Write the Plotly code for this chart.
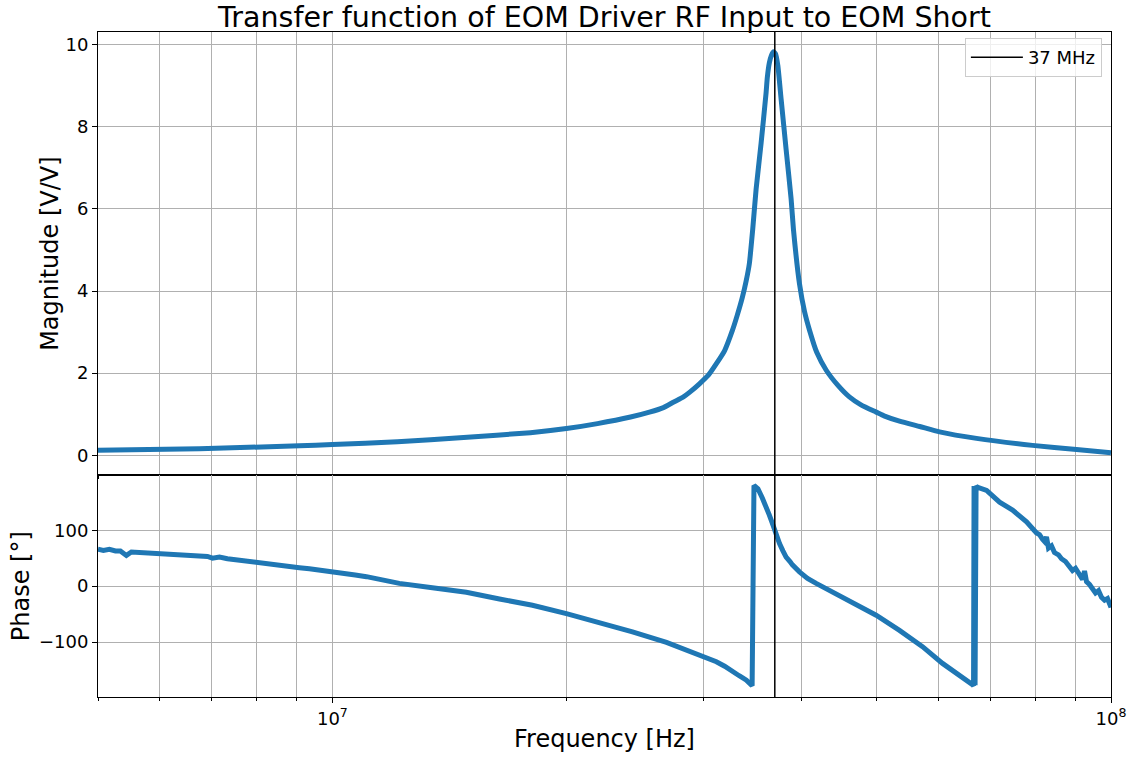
import math
import plotly.graph_objects as go
from plotly.subplots import make_subplots

# ---- data ----
mag_freq = [5.0e6, 6.748e6, 9.07e6, 1.0e7, 1.212e7, 1.474e7, 1.796e7, 1.998e7, 2.190e7,
            2.415e7, 2.554e7, 2.662e7, 2.74e7, 2.824e7, 2.875e7, 2.961e7, 3.04e7, 3.113e7,
            3.19e7, 3.264e7,
            3.31e7, 3.362e7, 3.40e7, 3.432e7, 3.466e7, 3.501e7, 3.553e7, 3.606e7, 3.619e7,
            3.641e7, 3.663e7, 3.685e7, 3.707e7, 3.733e7, 3.770e7, 3.826e7, 3.883e7, 3.910e7,
            3.980e7, 4.04e7, 4.101e7, 4.19e7, 4.308e7, 4.46e7, 4.613e7, 4.78e7, 4.993e7,
            5.11e7, 5.350e7, 5.68e7, 6.023e7, 6.718e7, 7.929e7, 9.030e7, 1.0e8]
mag_vals = [0.12, 0.16, 0.23, 0.26, 0.33, 0.43, 0.55, 0.65, 0.77,
            0.93, 1.05, 1.16, 1.29, 1.42, 1.53, 1.74, 1.95, 2.23,
            2.55, 3.04,
            3.4, 3.85, 4.25, 4.67, 5.5, 6.48, 7.6, 8.83, 9.2,
            9.56, 9.74, 9.83, 9.78, 9.5, 8.67, 7.45, 6.24, 5.5,
            4.18, 3.5, 3.04, 2.5, 2.07, 1.7, 1.42, 1.22, 1.05,
            0.96, 0.83, 0.7, 0.57, 0.41, 0.24, 0.14, 0.06]

phase_freq = [5.0e6, 5.08e6, 5.171e6, 5.264e6, 5.342e6, 5.438e6, 5.519e6, 5.651e6, 5.821e6,
              5.995e6, 6.175e6, 6.360e6, 6.551e6, 6.748e6, 6.911e6, 7.014e6, 7.161e6,
              7.332e6, 7.597e6, 7.825e6, 8.060e6, 8.302e6, 8.551e6, 8.807e6, 9.07e6,
              9.343e6, 9.623e6, 1.0e7, 1.036e7, 1.070e7, 1.106e7, 1.149e7, 1.184e7,
              1.219e7, 1.344e7, 1.486e7, 1.639e7, 1.807e7, 1.998e7, 2.203e7, 2.429e7,
              2.686e7, 2.961e7, 3.113e7, 3.19e7, 3.264e7, 3.33e7, 3.402e7, 3.43e7, 3.460e7,
              3.479e7, 3.501e7, 3.52e7, 3.567e7, 3.60e7, 3.641e7, 3.67e7, 3.696e7, 3.72e7,
              3.752e7, 3.79e7, 3.826e7, 3.87e7, 3.898e7, 3.980e7, 4.076e7,
              4.182e7, 4.388e7, 4.613e7, 4.993e7, 5.350e7, 5.727e7, 6.076e7, 6.448e7,
              6.583e7, 6.64e7, 6.66e7, 6.67e7, 6.69e7, 6.71e7, 6.73e7, 6.922e7,
              7.193e7, 7.474e7, 7.790e7, 8.023e7, 8.094e7, 8.166e7, 8.215e7, 8.263e7,
              8.312e7, 8.386e7, 8.461e7, 8.562e7, 8.638e7, 8.741e7, 8.845e7, 8.924e7,
              9.004e7, 9.111e7, 9.193e7, 9.247e7, 9.302e7, 9.384e7, 9.468e7, 9.552e7,
              9.637e7, 9.723e7, 9.810e7, 9.897e7, 1.0e8]
phase_vals = [66, 64, 66, 63, 63, 55, 61, 60, 59,
              58, 57, 55, 55, 53, 53, 50, 52,
              49, 46, 44, 42, 40, 37, 35, 33,
              31, 29, 26, 23, 20, 17, 12, 8,
              5, -3, -11, -23, -34, -49, -65, -81.5,
              -100.6, -123, -135, -143, -153, -160, -168, -173, -178,
              180, 177, 174, 157, 145, 127, 114, 100, 88,
              76, 63, 52, 44, 38, 25.6, 14,
              5, -10, -25, -52, -79, -108, -138, -162,
              -170, -176, -178, 179, -177, 179, 177, 171,
              150, 136, 115, 95, 92, 84, 80, 88,
              68, 72, 60, 56, 49, 44, 34, 28,
              32, 18, 12, 27, 8, 3, -5, -12,
              -8, -20, -25, -22, -38]

marker_freq = 3.7e7
marker_label = "37 MHz"

x_range = [5e6, 1e8]
mag_range = [-0.49, 10.31]
phase_range = [-198, 198]

major_x = [1e7, 1e8]
major_x_text = ["10<sup>7</sup>", "10<sup>8</sup>"]
minor_x = [5e6, 6e6, 7e6, 8e6, 9e6, 2e7, 3e7, 4e7, 5e7, 6e7, 7e7, 8e7, 9e7]

BLUE = "#1f77b4"
GRID = "#b0b0b0"
FONT = "DejaVu Sans"

fig = make_subplots(rows=2, cols=1, shared_xaxes=True, vertical_spacing=0,
                    row_heights=[2 / 3, 1 / 3])

fig.add_trace(go.Scatter(x=mag_freq, y=mag_vals, mode="lines",
                         line=dict(color=BLUE, width=5, shape="spline", smoothing=0.5),
                         showlegend=False), row=1, col=1)
fig.add_trace(go.Scatter(x=phase_freq, y=phase_vals, mode="lines",
                         line=dict(color=BLUE, width=5), showlegend=False), row=2, col=1)
fig.add_trace(go.Scatter(x=[marker_freq, marker_freq], y=[-100, 100], mode="lines",
                         line=dict(color="black", width=1.5), name=marker_label,
                         showlegend=True), row=1, col=1)
fig.add_trace(go.Scatter(x=[marker_freq, marker_freq], y=[-1000, 1000], mode="lines",
                         line=dict(color="black", width=1.5), name=marker_label,
                         showlegend=False), row=2, col=1)

xcommon = dict(type="log", range=[math.log10(x_range[0]), math.log10(x_range[1])],
               tickmode="array", tickvals=major_x, ticktext=major_x_text,
               showgrid=True, gridcolor=GRID, gridwidth=1, automargin=False,
               minor=dict(tickmode="array", tickvals=minor_x, showgrid=True,
                          gridcolor=GRID, gridwidth=1, ticks="outside", ticklen=3,
                          tickcolor="black"),
               showline=True, linecolor="black", linewidth=1, mirror=True,
               ticks="outside", ticklen=5, tickcolor="black", zeroline=False,
               tickfont=dict(size=18, color="black", family=FONT))
fig.update_xaxes(**xcommon)
fig.update_xaxes(showticklabels=False, row=1, col=1)
fig.update_xaxes(title=dict(text="Frequency [Hz]", font=dict(size=24, color="black", family=FONT),
                            standoff=2), row=2, col=1)

ycommon = dict(showgrid=True, gridcolor=GRID, gridwidth=1, zeroline=False, automargin=False,
               showline=True, linecolor="black", linewidth=1, mirror=True,
               ticks="outside", ticklen=5, tickcolor="black",
               tickfont=dict(size=18, color="black", family=FONT))
fig.update_yaxes(**ycommon)
fig.update_yaxes(range=mag_range, dtick=2, tick0=0,
                 title=dict(text="Magnitude [V/V]", font=dict(size=24, color="black", family=FONT),
                            standoff=0), row=1, col=1)
fig.update_yaxes(range=phase_range, tickvals=[-100, 0, 100],
                 title=dict(text="Phase [°]", font=dict(size=24, color="black", family=FONT),
                            standoff=2), row=2, col=1)

fig.update_layout(
    width=1134, height=757,
    margin=dict(l=98, r=23, t=32, b=60, autoexpand=False),
    paper_bgcolor="white", plot_bgcolor="white",
    font=dict(family=FONT, color="black"),
    title=dict(text="Transfer function of EOM Driver RF Input to EOM Short",
               x=(98 + 1111) / 2 / 1134, xanchor="center", xref="container",
               y=1 - 17 / 757, yanchor="middle", yref="container",
               font=dict(size=28.5, color="black", family=FONT)),
    legend=dict(x=0.991, xanchor="right", y=0.991, yanchor="top", itemwidth=52,
                bordercolor="#cccccc", borderwidth=1, bgcolor="rgba(255,255,255,0.8)",
                font=dict(size=18, color="black", family=FONT)),
)

fig.write_html("out.html", config={"displayModeBar": False},
               post_script="document.body.style.margin='0';document.body.style.padding='0';")
